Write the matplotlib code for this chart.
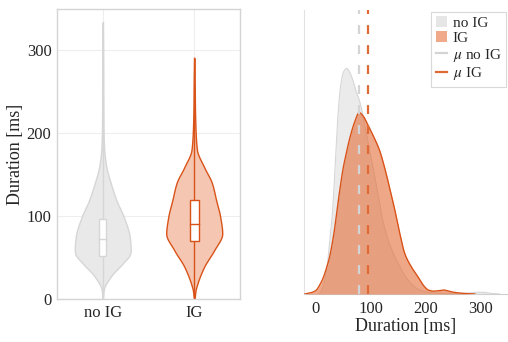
import matplotlib
matplotlib.use("Agg")
import matplotlib.pyplot as plt
import numpy as np
from matplotlib.patches import Patch, Rectangle
from matplotlib.lines import Line2D

plt.rcParams['font.family'] = ['Liberation Serif', 'DejaVu Serif']
plt.rcParams['mathtext.fontset'] = 'stix'

# ---- data ----
groups = ['no IG', 'IG']

# violin outlines: duration [ms] vs. half width (axis units)
noig_violin_ms = [0, 2, 11, 27, 43, 55, 59, 75, 99, 119, 140, 159, 180, 200, 250, 300, 334]
noig_violin_hw = [0, 0.003, 0.011, 0.087, 0.219, 0.301, 0.306, 0.295, 0.230, 0.150,
                  0.087, 0.040, 0.016, 0.009, 0.005, 0.003, 0]
ig_violin_ms = [0, 2, 10, 19, 39, 59, 79, 99, 119, 140, 159, 180, 200, 230, 260, 291]
ig_violin_hw = [0, 0.005, 0.014, 0.036, 0.109, 0.219, 0.306, 0.284, 0.240, 0.193,
                0.109, 0.030, 0.016, 0.008, 0.005, 0]

# box stats: q1, median, q3
noig_box = [52, 72, 97]
ig_box = [70, 91, 120]
noig_range = [0, 334]
ig_range = [0, 291]

# density curves (normalised height)
noig_dens_x = [5, 10, 15, 20, 25, 30, 35, 40, 45, 50, 56, 62, 68, 74, 78, 83, 90, 97,
               104, 113, 122, 134, 150, 168, 189, 210, 240, 270, 295, 305, 320, 335]
noig_dens_y = [0, 0.01, 0.04, 0.09, 0.18, 0.28, 0.44, 0.62, 0.73, 0.78, 0.795, 0.78,
               0.75, 0.71, 0.69, 0.655, 0.585, 0.515, 0.448, 0.355, 0.26, 0.178, 0.108,
               0.049, 0.014, 0.005, 0.002, 0.002, 0.006, 0.006, 0.002, 0]
ig_dens_x = [-20, -10, 0, 8, 13, 20, 25, 33, 41, 50, 56, 62, 71, 79, 87, 95, 104, 116,
             125, 134, 144, 153, 162, 174, 186, 198, 205, 215, 225, 233, 242, 255, 270, 290]
ig_dens_y = [0, 0.004, 0.012, 0.035, 0.055, 0.095, 0.13, 0.214, 0.33, 0.445, 0.5, 0.55,
             0.607, 0.639, 0.625, 0.595, 0.56, 0.507, 0.448, 0.378, 0.296, 0.214, 0.143,
             0.096, 0.061, 0.026, 0.014, 0.01, 0.012, 0.014, 0.01, 0.005, 0.002, 0]

mean_noig = 78
mean_ig = 95

# colours
grey_fill = '#e9e9e9'
grey_edge = '#d6d6d6'
orange = '#d95319'
orange_fill = '#f5c6b1'
axis_grey = '#d4d4d4'
text_col = '#262626'


def pchip(x, y, n=400):
    """Monotone cubic through the read-off points, just for smooth outlines."""
    x = np.asarray(x, float)
    y = np.asarray(y, float)
    h = np.diff(x)
    d = np.diff(y) / h
    m = np.zeros_like(y)
    m[0], m[-1] = d[0], d[-1]
    for k in range(1, len(x) - 1):
        if d[k - 1] * d[k] > 0:
            w1 = 2 * h[k] + h[k - 1]
            w2 = h[k] + 2 * h[k - 1]
            m[k] = (w1 + w2) / (w1 / d[k - 1] + w2 / d[k])
    xn = np.linspace(x[0], x[-1], n)
    i = np.clip(np.searchsorted(x, xn) - 1, 0, len(x) - 2)
    t = (xn - x[i]) / h[i]
    h00 = 2 * t**3 - 3 * t**2 + 1
    h10 = t**3 - 2 * t**2 + t
    h01 = -2 * t**3 + 3 * t**2
    h11 = t**3 - t**2
    yn = h00 * y[i] + h10 * h[i] * m[i] + h01 * y[i + 1] + h11 * h[i] * m[i + 1]
    return xn, np.clip(yn, 0, None)


fig = plt.figure(figsize=(5.08, 3.42), dpi=100)

# ---- left: violins ----
ax1 = fig.add_axes([0.1122, 0.1257, 0.3602, 0.848])
ax1.set_xlim(0.5, 2.5)
ax1.set_ylim(0, 350)
ax1.grid(True, color='#eeeeee', lw=0.8)
ax1.set_axisbelow(True)

violins = [
    (1, noig_violin_ms, noig_violin_hw, noig_box, noig_range, grey_fill, grey_edge, 0.04),
    (2, ig_violin_ms, ig_violin_hw, ig_box, ig_range, orange_fill, orange, 0.05),
]
for pos, ms, hw, box, rng, fc, ec, bw in violins:
    ms_s, hw_s = pchip(ms, hw)
    ax1.fill_betweenx(ms_s, pos - hw_s, pos + hw_s, facecolor=fc, edgecolor=ec, lw=1.0, zorder=2)
    ax1.plot([pos, pos], rng, color=ec, lw=1.0, zorder=3)
    ax1.add_patch(Rectangle((pos - bw, box[0]), 2 * bw, box[2] - box[0],
                            facecolor='white', edgecolor=ec, lw=1.0, zorder=4))
    ax1.plot([pos - bw, pos + bw], [box[1], box[1]], color=ec, lw=1.0, zorder=5)

ax1.set_xticks([1, 2])
ax1.set_xticklabels(groups)
ax1.set_yticks([0, 100, 200, 300])
ax1.set_ylabel('Duration [ms]', fontsize=13, color=text_col, labelpad=2)
ax1.tick_params(labelsize=12, colors=text_col, length=0, pad=4)
for s in ax1.spines.values():
    s.set_color(axis_grey)
    s.set_linewidth(1.0)

# ---- right: densities ----
ax2 = fig.add_axes([0.598, 0.1404, 0.4016, 0.830])
ax2.set_xlim(-22, 350)
ax2.set_ylim(0, 1)
gx, gy = pchip(noig_dens_x, noig_dens_y)
ox, oy = pchip(ig_dens_x, ig_dens_y)
ax2.fill_between(gx, gy, color=grey_fill, alpha=0.9, lw=0, zorder=1)
ax2.plot(gx, gy, color=grey_edge, lw=0.8, zorder=2)
ax2.fill_between(ox, oy, color='#e56f38', alpha=0.6, lw=0, zorder=3)
ax2.plot(ox, oy, color=orange, lw=1.0, zorder=4)
ax2.axvline(mean_noig, color='#d2d4d6', lw=1.6, ls=(0, (4, 5)), zorder=5)
ax2.axvline(mean_ig, color='#e06a35', lw=1.6, ls=(0, (4, 5)), zorder=6)

ax2.set_xticks([0, 100, 200, 300])
ax2.set_yticks([])
ax2.set_xlabel('Duration [ms]', fontsize=13, color=text_col, labelpad=1)
ax2.tick_params(labelsize=12, colors=text_col, length=0, pad=5)
ax2.spines['top'].set_visible(False)
ax2.spines['right'].set_visible(False)
ax2.spines['left'].set_color('#e2e2e2')
ax2.spines['bottom'].set_color('#cfcfcf')

handles = [
    Patch(facecolor='#e6e6e6', edgecolor='none', label='no IG'),
    Patch(facecolor='#f0aa8a', edgecolor='none', label='IG'),
    Line2D([], [], color='#d2d4d6', lw=1.6, label=r'$\mu$ no IG'),
    Line2D([], [], color='#e06a35', lw=1.6, label=r'$\mu$ IG'),
]
leg = ax2.legend(handles=handles, loc='upper right', bbox_to_anchor=(1.0, 1.0),
                 fontsize=11, frameon=True, fancybox=False, handlelength=0.7,
                 handletextpad=0.4, borderpad=0.3, labelspacing=0.1, borderaxespad=0.1)
leg.get_frame().set_edgecolor('#d0d0d0')
leg.get_frame().set_linewidth(0.8)
for t in leg.get_texts():
    t.set_color(text_col)

fig.savefig('out.png', dpi=100)
